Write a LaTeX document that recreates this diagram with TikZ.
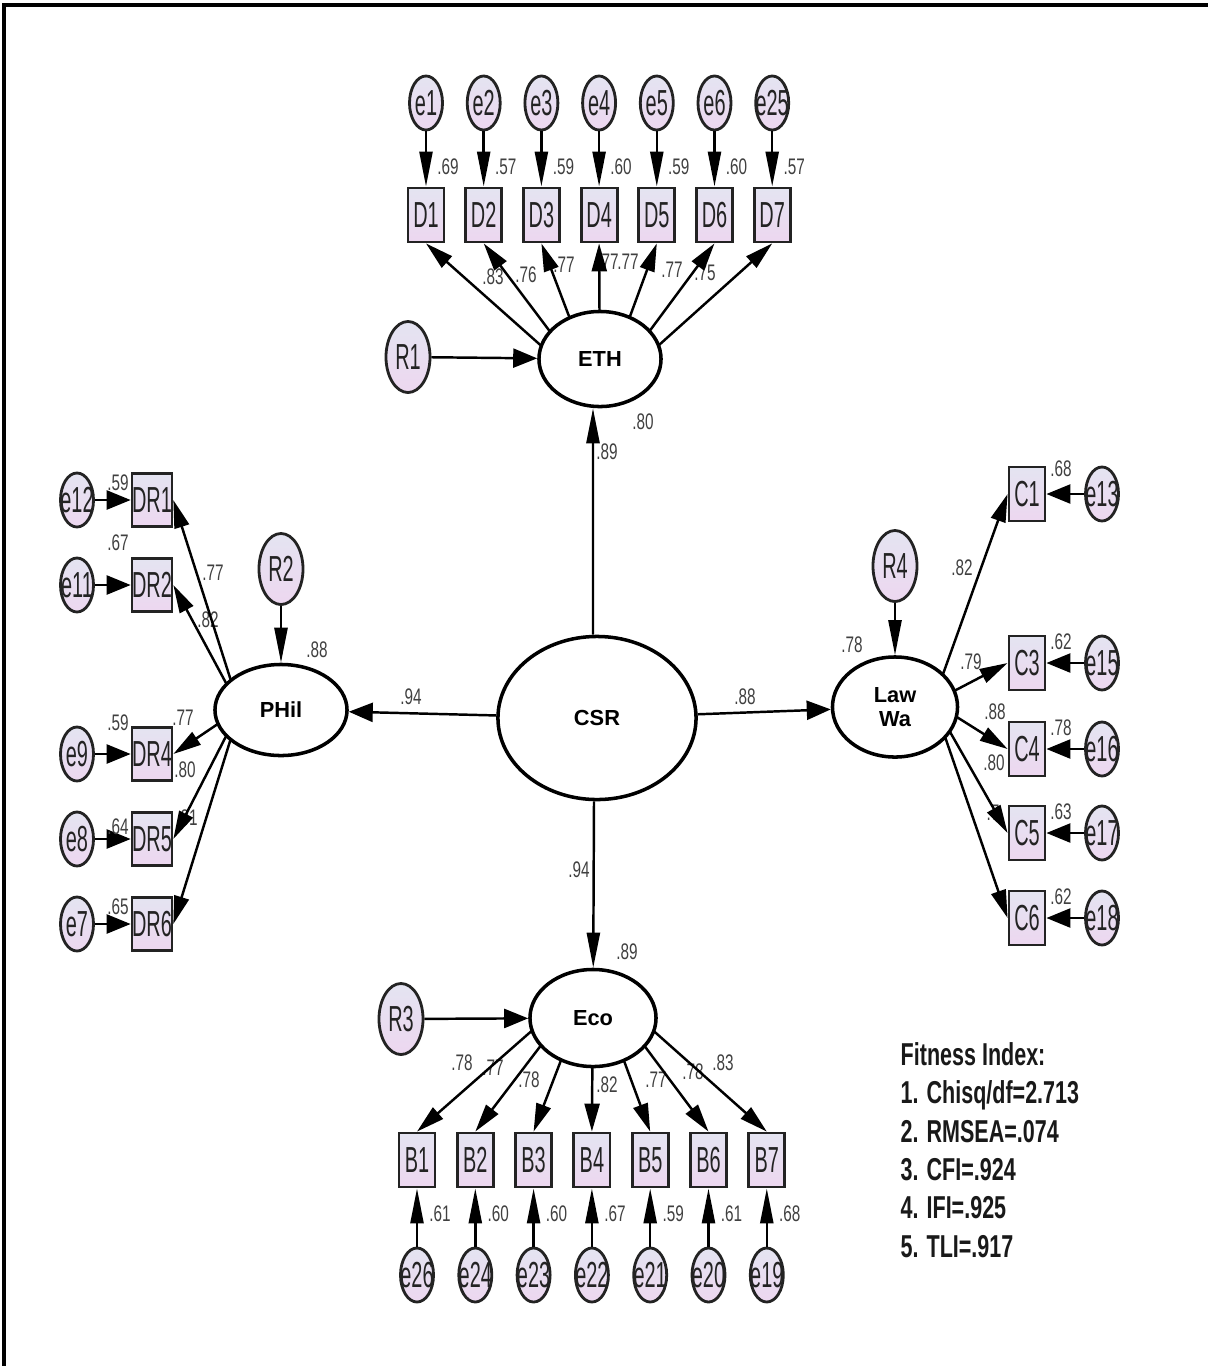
\documentclass[tikz,border=0pt]{standalone}
\usepackage{fontspec}
\usetikzlibrary{shapes.geometric,arrows.meta}
\newfontfamily\itemfont[FakeStretch=0.55]{Liberation Sans}
\newfontfamily\wtfont[FakeStretch=0.68]{Liberation Sans}
\newfontfamily\latfont{Liberation Sans}
\definecolor{lavtop}{RGB}{228,228,241}
\definecolor{lavbot}{RGB}{237,215,240}
\definecolor{ink}{RGB}{35,35,35}
\begin{document}
\begin{tikzpicture}[x=0.01cm, y=-0.01cm,
    obs/.style={draw=ink, line width=0.8pt, top color=lavtop, bottom color=lavbot, rectangle,
        minimum width=0.36cm, minimum height=0.54cm, inner sep=0pt,
        font=\itemfont\fontsize{10.3}{12}\selectfont, text=ink},
    err/.style={draw=ink, line width=0.8pt, top color=lavtop, bottom color=lavbot, ellipse,
        minimum width=0.33cm, minimum height=0.54cm, inner sep=0pt,
        font=\itemfont\fontsize{10.3}{12}\selectfont, text=ink,
        execute at begin node={\hbox to 0pt\bgroup\hss}, execute at end node={\hss\egroup}},
    res/.style={err, minimum width=0.44cm, minimum height=0.71cm},
    lat/.style={draw, line width=1pt, fill=white, ellipse, inner sep=0pt, align=center,
        font=\latfont\bfseries\fontsize{6.2}{6.8}\selectfont},
    wt/.style={inner sep=0pt, font=\wtfont\fontsize{6.4}{7}\selectfont, text=black!75},
    vtip/.style={line width=0.7pt, -{Triangle[length=0.35cm,width=0.13cm]}},
    dtip/.style={line width=0.7pt, -{Triangle[length=0.28cm,width=0.15cm]}},
    htip/.style={line width=0.7pt, -{Triangle[length=0.24cm,width=0.19cm]}}]
    \useasboundingbox (0,0) rectangle (1208,1366);
    \draw[line width=0.9pt] (4,1366) -- (4,5) -- (1208,5);

    \foreach \e/\v [count=\i] in {e1/.69,e2/.57,e3/.59,e4/.60,e5/.59,e6/.60,e25/.57}{
        \pgfmathsetmacro{\x}{426+57.7*(\i-1)}
        \node[obs] (D\i) at (\x,215) {D\i};
        \node[err] (\e) at (\x,103) {\e};
        \draw[vtip] (\e) -- (D\i);
        \node[wt] (dw\i) at (\x+22,167) {\v};
    }
    \foreach \e/\v [count=\i] in {e26/.61,e24/.60,e23/.60,e22/.67,e21/.59,e20/.61,e19/.68}{
        \pgfmathsetmacro{\x}{417+58.3*(\i-1)}
        \node[obs] (B\i) at (\x,1160) {B\i};
        \node[err] (\e) at (\x,1275) {\e};
        \draw[vtip] (\e) -- (B\i);
        \node[wt] (bw\i) at (\x+23,1214) {\v};
    }
    \foreach \n/\e/\y/\v/\ly in {DR1/e12/500/.59/483, DR2/e11/585/.67/543, DR4/e9/754/.59/723, DR5/e8/839/.64/827, DR6/e7/924/.65/907}{
        \node[obs, minimum width=0.38cm, minimum height=0.53cm] (\n) at (152,\y) {\n};
        \node[err] (\e) at (77,\y) {\e};
        \draw[htip] (\e) -- (\n);
        \node[wt] (w\n) at (118,\ly) {\v};
    }
    \foreach \n/\e/\y/\v/\ly in {C1/e13/494/.68/469, C3/e15/663/.62/642, C4/e16/749/.78/728, C5/e17/833/.63/812, C6/e18/918/.62/897}{
        \node[obs] (\n) at (1027,\y) {\n};
        \node[err] (\e) at (1102,\y) {\e};
        \draw[htip] (\e) -- (\n);
        \node[wt] (w\n) at (1061,\ly) {\v};
    }

    \foreach \v/\x/\y [count=\i] in {.83/493/277, .76/526/275, .77/564/265, .77/608/262, .77/628/262, .77/672/270, .75/705/273}
        \node[wt] (ew\i) at (\x,\y) {\v};
    \foreach \v/\x/\y [count=\i] in {.78/462/1063, .77/493/1068, .78/529/1080, .82/607/1085, .77/656/1080, .78/693/1072, .83/723/1063}
        \node[wt] (cw\i) at (\x,\y) {\v};
    \foreach \v/\x/\y [count=\i] in {.77/213/573, .82/208/620, .77/183/718, .80/185/770, .81/187/818}
        \node[wt] (pw\i) at (\x,\y) {\v};
    \foreach \v/\x/\y [count=\i] in {.82/962/568, .79/971/662, .88/995/712, .80/994/763, .7/993/813}
        \node[wt] (lw\i) at (\x,\y) {\v};

    \coordinate (pe) at (600,398);
    \coordinate (pb) at (593,977);
    \coordinate (pp) at (240,709);
    \coordinate (pl) at (933,702);
    \foreach \i in {1,...,7}{
        \draw[dtip] (pe) -- (D\i.south);
        \draw[dtip] (pb) -- (B\i.north);
    }
    \foreach \n in {DR1,DR2,DR4,DR5,DR6} \draw[dtip] (pp) -- (\n.east);
    \foreach \n in {C1,C3,C4,C5,C6} \draw[dtip] (pl) -- (\n.west);

    \node[lat, minimum width=1.22cm, minimum height=0.95cm] (ETH) at (600,359) {ETH};
    \node[lat, minimum width=1.98cm, minimum height=1.63cm] (CSR) at (597,718) {CSR};
    \node[lat, minimum width=1.32cm, minimum height=0.91cm] (PHil) at (281,710) {PHil};
    \node[lat, minimum width=1.25cm, minimum height=1.00cm] (Law) at (895,707) {Law\\Wa};
    \node[lat, minimum width=1.26cm, minimum height=0.97cm] (Eco) at (593,1018) {Eco};

    \node[res] (R1) at (408,357) {R1};
    \node[res] (R2) at (281,569) {R2};
    \node[res] (R3) at (401,1019) {R3};
    \node[res] (R4) at (895,566) {R4};

    \draw[htip] (R1) -- (ETH);
    \draw[vtip] (R2) -- (PHil);
    \draw[htip] (R3) -- (Eco);
    \draw[vtip] (R4) -- (Law);
    \draw[vtip] ([xshift=-0.04cm]CSR.north) -- ([xshift=-0.07cm]ETH.south);
    \draw[vtip] ([xshift=-0.03cm]CSR.south) -- (Eco);
    \draw[htip] (CSR) -- (PHil);
    \draw[htip] (CSR) -- (Law);

    \node[wt] (sETH) at (643,422) {.80};
    \node[wt] (gETH) at (607,452) {.89};
    \node[wt] (sEco) at (627,952) {.89};
    \node[wt] (gEco) at (579,870) {.94};
    \node[wt] (sPHil) at (317,650) {.88};
    \node[wt] (gPHil) at (411,697) {.94};
    \node[wt] (sLaw) at (852,645) {.78};
    \node[wt] (gLaw) at (745,697) {.88};

    \node[anchor=north west, inner sep=0pt, align=left, text=black!90,
        font=\wtfont\bfseries\fontsize{9}{10.9}\selectfont] (fit) at (900,1042)
        {Fitness Index:\\1. Chisq/df=2.713\\2. RMSEA=.074\\3. CFI=.924\\4. IFI=.925\\5. TLI=.917};
\end{tikzpicture}
\end{document}
